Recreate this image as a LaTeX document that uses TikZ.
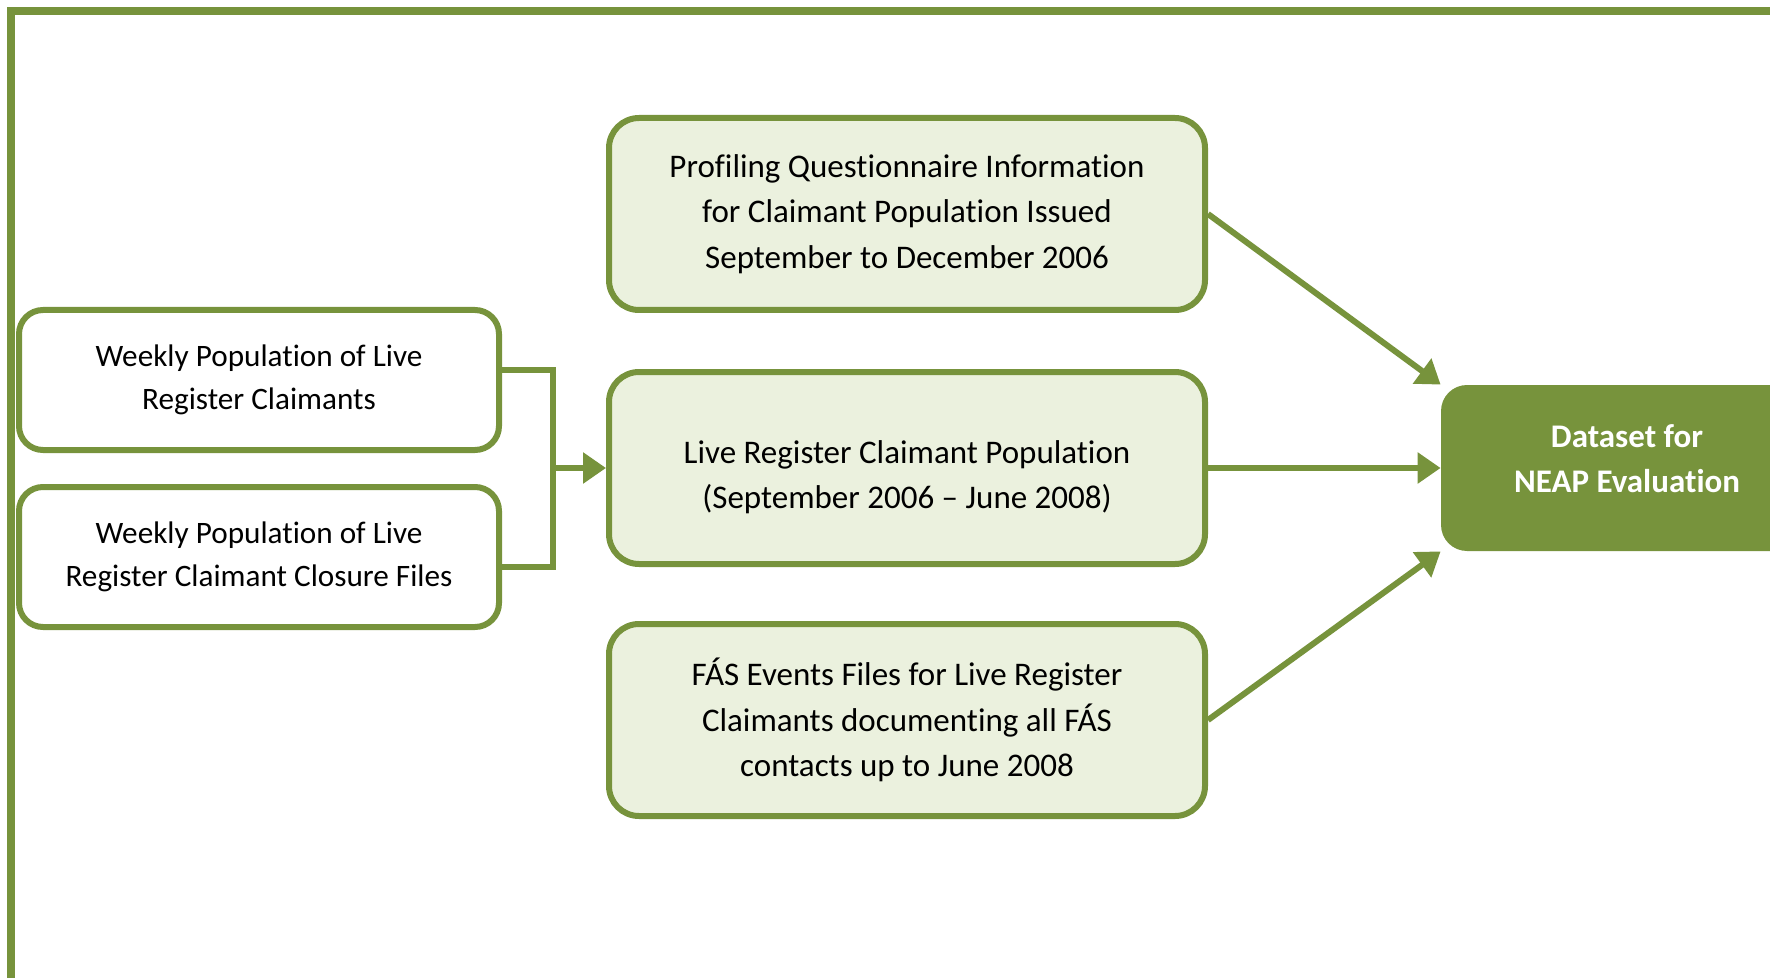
\documentclass[tikz,border=0pt]{standalone}
\usepackage{fontspec}
\setmainfont{Carlito}[Ligatures=CommonOff]
\usepackage{xcolor}
\usepackage{tikz}
\usetikzlibrary{arrows.meta}

\definecolor{boxgreen}{HTML}{77933C}
\definecolor{boxfill}{HTML}{EBF1DE}

% text block moved up or down inside its box
\newcommand{\nudgetext}[2]{\raisebox{#1}[\height][\depth]{\begin{tabular}{@{}c@{}}#2\end{tabular}}}

\tikzset{
  srcbox/.style={draw=boxgreen,line width=3pt,fill=white,rounded corners=12pt,align=center,
    inner sep=0pt,minimum width=240pt,minimum height=70pt,font=\fontsize{15.6}{21.5}\selectfont},
  databox/.style={srcbox,fill=boxfill,rounded corners=15pt,minimum width=298pt,
    minimum height=96pt,font=\fontsize{16.5}{22.8}\selectfont},
  outbox/.style={fill=boxgreen,text=white,rounded corners=13pt,align=center,inner sep=0pt,
    minimum width=186pt,minimum height=83pt,font=\bfseries\fontsize{16.5}{22.6}\selectfont},
  link/.style={draw=boxgreen,line width=3pt},
  arr/.style={link,-{Triangle[length=11.5pt,width=15pt]}}
}

\begin{document}
\begin{tikzpicture}[x=0.5pt,y=-0.5pt]
\clip (0,0) rectangle (1770,978);
\draw[boxgreen,line width=4pt] (1770,11) -- (11,11) -- (11,978);
\node (1) at (259,380) [srcbox] {Weekly Population of Live\\Register Claimants};
\node (2) at (259,557) [srcbox] {Weekly Population of Live\\Register Claimant Closure Files};
\node (3) at (907,214) [databox] {Profiling Questionnaire Information\\for Claimant Population Issued\\September to December 2006};
\node (4) at (907,468) [databox] {\nudgetext{-4.5pt}{Live Register Claimant Population\\(September 2006 -- June 2008)}};
\node (5) at (907,720) [databox] {FÁS Events Files for Live Register\\Claimants documenting all FÁS\\contacts up to June 2008};
\node (6) at (1627,468) [outbox] {\nudgetext{3.5pt}{Dataset for\\NEAP Evaluation}};
\coordinate (j) at (551,468);
\draw[link] ([yshift=5pt]1.east) -- ++(51,0) |- ([yshift=-5pt]2.east);
\draw[arr] (j) -- (4.west);
\draw[arr] (3.east) -- (6.north west);
\draw[arr] (4.east) -- (6.west);
\draw[arr] (5.east) -- (6.south west);
\end{tikzpicture}
\end{document}
